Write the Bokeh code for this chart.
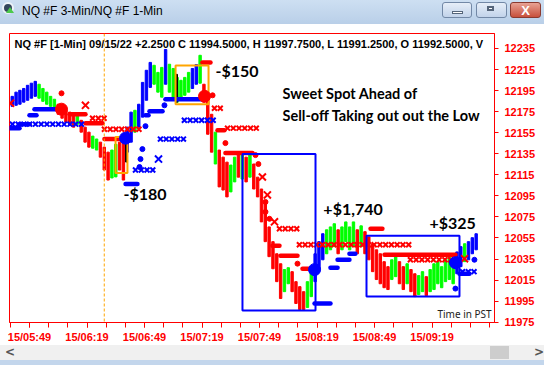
from bokeh.plotting import figure
from bokeh.models import FixedTicker, Range1d, Span, Label, Div, ColumnDataSource
from bokeh.layouts import column
from bokeh.core.properties import value
from bokeh.embed import file_html
from bokeh.resources import INLINE

# ---------------- data ----------------
# time axis: minutes after 05:00 (day 15)
tick_label_minutes = [49, 79, 109, 139, 169, 199, 229, 259]
tick_labels = ["15/05:49", "15/06:19", "15/06:49", "15/07:19",
               "15/07:49", "15/08:19", "15/08:49", "15/09:19"]
minor_tick_minutes = list(range(39, 290, 10))
price_ticks = list(range(11975, 12236, 20))

bar_high = [12189.5, 12193.5, 12195.25, 12197.0, 12200.0, 12202.0, 12203.75, 12201.0, 12197.0, 12193.5,
            12189.5, 12186.75, 12182.0, 12180.0, 12176.25, 12174.5, 12172.5, 12171.5, 12166.75, 12160.25,
            12155.5, 12151.75, 12149.0, 12146.0, 12141.25, 12136.5, 12138.5, 12144.0, 12146.0, 12148.0,
            12160.25, 12174.5, 12176.25, 12182.0, 12202.75, 12214.25, 12221.75, 12219.0, 12212.25, 12217.0,
            12234.0, 12220.0, 12216.0, 12207.5, 12204.75, 12207.5, 12212.25, 12216.0, 12219.75, 12228.5,
            12201.0, 12188.75, 12172.5, 12155.5, 12138.5, 12131.75, 12127.0, 12124.25, 12131.75, 12133.75,
            12133.75, 12131.75, 12133.75, 12125.25, 12112.75, 12101.5, 12089.25, 12065.5, 12051.5, 12040.0,
            12030.5, 12025.0, 12026.75, 12023.0, 12013.5, 12008.75, 12004.0, 12013.5, 12023.0, 12040.0,
            12051.5, 12059.0, 12062.75, 12065.5, 12068.5, 12062.75, 12065.5, 12070.25, 12065.5, 12070.25,
            12062.75, 12066.5, 12061.0, 12056.0, 12049.5, 12043.75, 12040.0, 12032.5, 12027.75, 12034.25,
            12038.0, 12032.5, 12027.75, 12030.5, 12025.0, 12021.0, 12019.25, 12023.0, 12018.25, 12025.0,
            12030.5, 12032.5, 12027.75, 12034.25, 12037.25, 12034.25, 12041.75, 12046.75, 12049.5, 12051.5,
            12055.25, 12059.0]
bar_low = [12180.0, 12181.0, 12182.0, 12184.0, 12185.75, 12187.75, 12189.5, 12187.75, 12184.75, 12182.0,
           12180.0, 12178.25, 12172.5, 12168.75, 12165.0, 12162.0, 12160.25, 12163.0, 12155.5, 12146.0,
           12141.25, 12140.25, 12138.5, 12131.75, 12119.5, 12110.0, 12112.0, 12113.0, 12119.5, 12110.0,
           12136.5, 12146.0, 12155.5, 12160.25, 12169.75, 12185.75, 12198.0, 12201.0, 12193.5, 12188.75,
           12201.0, 12193.5, 12188.75, 12184.0, 12188.75, 12190.5, 12193.5, 12197.0, 12201.0, 12202.0,
           12184.0, 12153.5, 12136.5, 12125.25, 12103.5, 12100.5, 12094.0, 12098.75, 12108.25, 12112.75,
           12111.0, 12108.25, 12112.75, 12101.5, 12094.0, 12070.25, 12051.5, 12037.25, 12025.75, 12013.5,
           11997.5, 12004.0, 12011.5, 12004.0, 11992.75, 11987.0, 11987.0, 11989.0, 11999.25, 12013.5,
           12025.0, 12034.25, 12040.0, 12043.75, 12046.75, 12040.0, 12043.75, 12051.5, 12043.75, 12046.75,
           12040.0, 12046.75, 12040.0, 12034.25, 12023.0, 12015.5, 12011.5, 12007.75, 12006.0, 12015.5,
           12018.25, 12011.5, 12006.0, 12011.5, 12004.0, 11999.25, 12001.25, 12004.0, 12000.25, 12004.0,
           12006.0, 12011.5, 12007.75, 12013.5, 12015.5, 12011.5, 12021.0, 12027.75, 12032.5, 12034.25,
           12040.0, 12043.75]
bar_paint = ("bbbbbbb" + "ggggg" + "rrrrr" + "g" + "rrr" + "gg" + "rrr" + "gg" + "rr" + "bb" + "g"
             + "bbbb" + "ggg" + "b" + "gggggg" + "bb" + "g" + "rrr" + "g" + "rrr" + "gg" + "r" + "g"
             + "r" + "g" + "rrrrrrrr" + "gg" + "rrrr" + "gg" + "bbb" + "ggg" + "r" + "gggg" + "r" + "g"
             + "rrrrrrr" + "gg" + "rr" + "g" + "rr" + "gg" + "r" + "ggggggg" + "bb" + "g" + "bbb")
bar_minute = list(range(40, 40 + 2 * len(bar_high), 2))

black_bar_minute = [99.6, 125.7]
black_bar_high = [12149.8, 12210.4]
black_bar_low = [12127.1, 12184.0]

# trailing stop dots (held levels) and x-stops
blue_dash_start = [38.6, 43.8, 49.0, 51.6, 99.1, 109.5, 111.6, 119.9, 197.7, 206.0, 209.7, 215.9, 273.3]
blue_dash_end = [43.8, 49.0, 52.65, 64.65, 105.3, 111.1, 118.4, 139.2, 206.0, 209.7, 215.9, 219.0, 278.5]
blue_dash_price = [12159.3, 12163.1, 12171.6, 12177.3, 12106.3, 12171.6, 12175.4, 12186.7,
                   11992.7, 12026.8, 12034.3, 12040.0, 12021.1]
blue_dot_minute = [106.4, 106.9, 107.9, 109.5, 119.4, 271.2, 281.1]
blue_dot_price = [12122.4, 12129.9, 12139.4, 12161.2, 12181.0, 12006.9, 12034.3]

red_dash_start = [69.9, 78.2, 88.1, 139.2, 147.1, 151.2, 175.7, 179.9, 191.4, 226.9, 234.2]
red_dash_end = [78.2, 87.1, 99.1, 143.4, 150.7, 165.3, 179.4, 188.8, 195.6, 233.1, 271.2]
red_dash_price = [12172.5, 12164.0, 12148.9, 12221.75, 12157.4, 12135.6, 12047.6, 12038.1,
                  12025.8, 12063.7, 12039.1]
red_dot_minute = [65.7, 144.5, 151.2, 166.9, 168.4, 172.1, 172.1, 174.2, 188.8]
red_dot_price = [12192.4, 12190.5, 12145.1, 12133.7, 12125.2, 12089.2, 12079.8, 12073.2, 12030.6]

blue_x_start = [40.1, 104.3, 117.3, 129.8, 274.9]
blue_x_end = [76.7, 114.7, 130.4, 145.5, 282.7]
blue_x_price = [12163.1, 12119.5, 12148.9, 12166.8, 12023.0]
blue_bigx_minute = [116.3]
blue_bigx_price = [12129.9]

red_x_start = [81.9, 88.1, 145.5, 152.3, 179.4, 189.8, 247.7]
red_x_end = [88.1, 106.4, 151.2, 169.5, 190.4, 247.2, 271.2]
red_x_price = [12168.7, 12158.3, 12178.2, 12159.3, 12063.7, 12048.5, 12034.3]
red_bigx_minute = [39.1, 78.2, 170.5, 173.1, 176.8, 275.9]
red_bigx_price = [12183.0, 12181.0, 12112.9, 12095.9, 12070.3, 12035.3]

signal_minute = [65.7, 140.3, 99.1, 197.7, 271.2]
signal_price = [12177.3, 12189.6, 12149.8, 12024.9, 12031.5]
signal_side = ["sell", "sell", "buy", "buy", "buy"]

trade_left = [93.9, 125.2, 160.1, 224.8]
trade_right = [100.1, 142.4, 198.2, 273.3]
trade_top = [12150.8, 12218.9, 12134.7, 12057.0]
trade_bottom = [12116.7, 12182.0, 11986.1, 11999.3]
trade_kind = ["loss", "loss", "win", "win"]

pnl_text = ["-$180", "-$150", "+$1,740", "+$325"]
pnl_minute = [98.0, 146.0, 202.3, 257.6]
pnl_price = [12096.8, 12214.2, 12082.6, 12069.4]

caption_lines = ["Sweet Spot Ahead of", "Sell-off Taking out out the Low"]
caption_minute = [181.0, 181.0]
caption_price = [12192.4, 12171.6]

header = ("NQ #F [1-Min] 09/15/22  +2.2500 C 11994.5000, H 11997.7500, "
          "L 11991.2500, O 11992.5000, V")
last_prices = ["12052.95", "12033.87", "12023.37"]
last_price_levels = [12053.75, 12033.4, 12022.0]
session_line_minute = 88.0

# ---------------- styling ----------------
RED = "#ff0000"
BLUE = "#0000ff"
GREEN = "#00ff00"
ORANGE = "#ffa500"
paint_color = {"b": BLUE, "g": GREEN, "r": RED}
AXFONT = "Liberation Sans"

p = figure(width=544, height=321, x_range=Range1d(38.57, 291.57),
           y_range=Range1d(11974.7, 12249.2), output_backend="svg",
           toolbar_location=None, title=None, y_axis_location="right",
           min_border_left=9, min_border_right=50, min_border_top=9, min_border_bottom=22)
p.grid.visible = False
p.outline_line_color = RED
p.outline_line_width = 1
p.background_fill_color = "white"
p.border_fill_color = "white"

xa = p.xaxis[0]
xa.ticker = FixedTicker(ticks=tick_label_minutes, minor_ticks=minor_tick_minutes)
xa.major_label_overrides = {m: t for m, t in zip(tick_label_minutes, tick_labels)}
ya = p.yaxis[0]
ya.ticker = FixedTicker(ticks=price_ticks, minor_ticks=[])
for ax in (xa, ya):
    ax.axis_line_color = RED
    ax.major_tick_line_color = RED
    ax.minor_tick_line_color = RED
    ax.major_tick_in = 0
    ax.minor_tick_in = 0
    ax.major_label_text_color = RED
    ax.major_label_text_font = AXFONT
    ax.major_label_text_font_style = "bold"
    ax.major_label_text_font_size = "11px"
xa.major_tick_out = 5
xa.minor_tick_out = 5
xa.major_label_standoff = 3
ya.major_tick_out = 4
ya.major_label_standoff = 6

p.add_layout(Span(location=session_line_minute, dimension="height", line_color=ORANGE,
                  line_dash="3 2", line_width=1))

bars = ColumnDataSource(dict(x=bar_minute, top=bar_high, bottom=bar_low,
                             c=[paint_color[k] for k in bar_paint]))
p.vbar(x="x", top="top", bottom="bottom", width=1.25, color="c", source=bars)
p.vbar(x=black_bar_minute, top=black_bar_high, bottom=black_bar_low, width=1.0, color="black")


def row_points(starts, ends, prices, step=3.0):
    xs, ys = [], []
    for a, b, y in zip(starts, ends, prices):
        t = a
        while t <= b + 1e-9:
            xs.append(t)
            ys.append(y)
            t += step
    return xs, ys


for st, en, pr, col in ((blue_dash_start, blue_dash_end, blue_dash_price, BLUE),
                        (red_dash_start, red_dash_end, red_dash_price, RED)):
    p.segment(x0=st, y0=pr, x1=en, y1=pr, line_color=col, line_width=4.5, line_cap="round")
p.scatter(blue_dot_minute, blue_dot_price, marker="circle", size=5, color=BLUE)
p.scatter(red_dot_minute, red_dot_price, marker="circle", size=5, color=RED)

bx, by = row_points(blue_x_start, blue_x_end, blue_x_price)
rx, ry = row_points(red_x_start, red_x_end, red_x_price)
p.scatter(bx, by, marker="x", size=7, line_width=2, line_color=BLUE)
p.scatter(rx, ry, marker="x", size=7, line_width=2, line_color=RED)
p.scatter(blue_bigx_minute, blue_bigx_price, marker="x", size=10, line_width=2, line_color=BLUE)
p.scatter(red_bigx_minute, red_bigx_price, marker="x", size=10, line_width=2, line_color=RED)

p.quad(left=trade_left, right=trade_right, top=trade_top, bottom=trade_bottom,
       fill_color=None, line_width=2,
       line_color=[ORANGE if k == "loss" else BLUE for k in trade_kind])

p.scatter(signal_minute, signal_price, marker="circle", size=12,
          color=[RED if s == "sell" else BLUE for s in signal_side])

p.text(x=[41.2], y=[12239.3], text=[header], text_font=value(AXFONT), text_font_style="bold",
       text_font_size="11px", text_baseline="middle", text_color="black")
p.text(x=pnl_minute, y=pnl_price, text=pnl_text, text_font=value("Lato"), text_font_style="bold",
       text_font_size="16px", text_baseline="middle", text_color="black")
p.text(x=caption_minute, y=caption_price, text=caption_lines, text_font=value("Lato"),
       text_font_style="bold", text_font_size="14.5px", text_baseline="middle", text_color="black")
p.text(x=[261.8], y=[11983.2], text=["Time in PST"], text_font=value("Noto Sans"),
       text_font_size="10px", text_baseline="middle", text_color="#222222")

label_styles = [("#00ffff", RED), (BLUE, "#ffff00"), (BLUE, "#ffff00")]
for txt, lvl, (bg, fg) in zip(last_prices, last_price_levels, label_styles):
    p.add_layout(Label(x=292.4, y=lvl, text=txt, text_color=fg, text_font=AXFONT,
                       text_font_style="bold", text_font_size="10px", text_baseline="middle",
                       background_fill_color=bg, padding=2))

title_html = (
    '<div style="position:relative;width:544px;height:24px;overflow:hidden;'
    'background:linear-gradient(#cddff2,#b9cfe8);font-family:\'Liberation Sans\',sans-serif;">'
    '<div style="position:absolute;left:2px;top:2px;width:12px;height:12px;border-radius:50%;'
    'background:#34475c;border:2px solid #eef3f8;"></div>'
    '<div style="position:absolute;left:6px;top:7px;width:0;height:0;border-left:4px solid transparent;'
    'border-right:4px solid transparent;border-bottom:6px solid #4cc94c;"></div>'
    '<div style="position:absolute;left:22px;top:3px;font-size:12px;color:#000;">NQ #F 3-Min/NQ #F 1-Min</div>'
    '<div style="position:absolute;left:442px;top:2px;width:30px;height:16px;border:1px solid #7288a6;'
    'border-radius:3px;background:linear-gradient(#e6eef8,#c2d3ea);"></div>'
    '<div style="position:absolute;left:452px;top:11px;width:11px;height:3px;background:#fff;'
    'border:1px solid #55657a;"></div>'
    '<div style="position:absolute;left:476px;top:2px;width:31px;height:16px;border:1px solid #7288a6;'
    'border-radius:3px;background:linear-gradient(#e6eef8,#c2d3ea);"></div>'
    '<div style="position:absolute;left:487px;top:6px;width:7px;height:5px;border:2px solid #55657a;'
    'background:#fff;"></div>'
    '<div style="position:absolute;left:510px;top:2px;width:31px;height:16px;border:1px solid #8a3a30;'
    'border-radius:3px;background:linear-gradient(#e8a294,#c8503c);color:#fff;font-weight:bold;'
    'font-size:13px;line-height:16px;text-align:center;">X</div>'
    '</div>')
scroll_html = (
    '<div style="position:relative;width:544px;height:20px;overflow:hidden;background:#c3d6ec;">'
    '<div style="position:absolute;left:0;top:0;width:544px;height:15px;background:#f0f0f0;"></div>'
    '<div style="position:absolute;left:490px;top:1px;width:19px;height:13px;background:#cdcdcd;"></div>'
    '<div style="position:absolute;left:5px;top:-1px;font-family:\'DejaVu Sans\';font-weight:bold;'
    'font-size:12px;color:#555;">&lt;</div>'
    '<div style="position:absolute;left:534px;top:-1px;font-family:\'DejaVu Sans\';font-weight:bold;'
    'font-size:12px;color:#555;">&gt;</div>'
    '</div>')

title_div = Div(text=title_html, width=544, height=24, margin=0)
scroll_div = Div(text=scroll_html, width=544, height=20, margin=0)
layout = column(title_div, p, scroll_div, spacing=0)

open("out.html", "w").write(file_html(layout, INLINE))
